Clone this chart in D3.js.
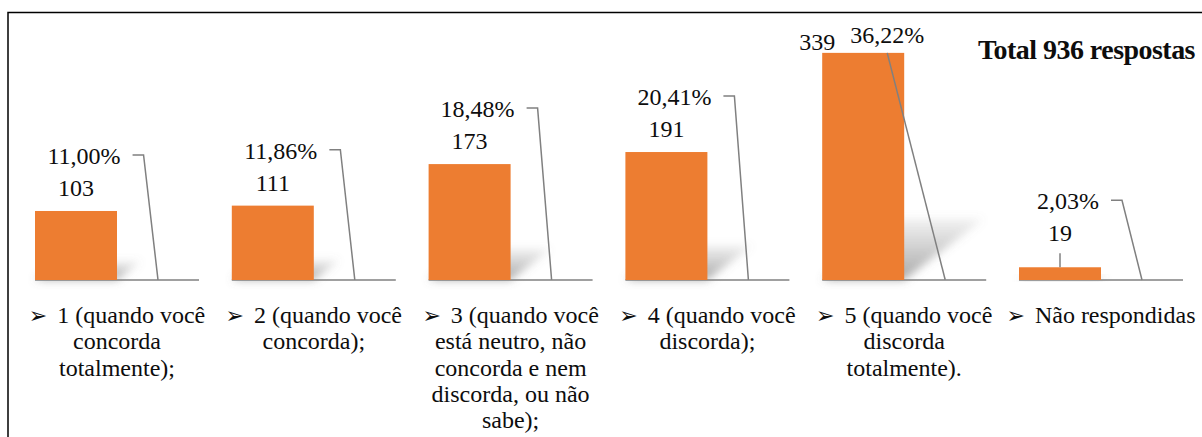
<!DOCTYPE html>
<html>
<head>
<meta charset="utf-8">
<script src="https://cdn.jsdelivr.net/npm/d3@7"></script>
<style>
  body { margin: 0; background: #fff; }
  svg text { font-family: "Liberation Serif", "Times New Roman", serif; fill: #0d0d0d; }
</style>
</head>
<body>
<script>
// data
var categories = ['1', '2', '3', '4', '5', 'NR'];
var categoryLabels = [
    ['1 (quando você', 'concorda', 'totalmente);'],
    ['2 (quando você', 'concorda);'],
    ['3 (quando você', 'está neutro, não', 'concorda e nem', 'discorda, ou não', 'sabe);'],
    ['4 (quando você', 'discorda);'],
    ['5 (quando você', 'discorda', 'totalmente).'],
    ['Não respondidas']
];
var counts = [103, 111, 173, 191, 339, 19];
var percents = [11.00, 11.86, 18.48, 20.41, 36.22, 2.03];
var totalLabel = 'Total 936 respostas';
var yMax = 400; // hidden value axis max

var scr = { w: 1202, h: 437 };
var baseY = 280, topY = 12;
var labelLift = [0, 0, 0, 0, 0, 11]; // extra lift for the tiny bar's label (has a leader)

var svg = d3.select('body')
    .append('svg')
    .attr('width', scr.w)
    .attr('height', scr.h);

var defs = svg.append('defs');
defs.append('filter')
    .attr('id', 'blur')
    .attr('x', '-50%').attr('y', '-50%')
    .attr('width', '200%').attr('height', '200%')
    .append('feGaussianBlur')
    .attr('stdDeviation', 4);
var grad = defs.append('linearGradient')
    .attr('id', 'shade')
    .attr('x1', 0).attr('y1', 1).attr('x2', 0).attr('y2', 0);
grad.append('stop').attr('offset', 0).attr('stop-color', '#6e6e6e').attr('stop-opacity', 0.6);
grad.append('stop').attr('offset', 1).attr('stop-color', '#7a7a7a').attr('stop-opacity', 0.1);

// frame (only left and top edges are in view)
svg.append('rect')
    .attr('x', 8).attr('y', 12.5)
    .attr('width', 1400).attr('height', 600)
    .attr('fill', 'none')
    .attr('stroke', '#000')
    .attr('stroke-width', 1.5);

var xScale = d3.scaleBand()
    .domain(categories)
    .range([35, 1183])
    .paddingInner(1 / 6)
    .paddingOuter(0);
var subScale = d3.scaleBand()
    .domain(['count', 'pct'])
    .range([0, xScale.bandwidth()]);
var yScale = d3.scaleLinear()
    .domain([0, yMax])
    .range([baseY, topY]);

var ptBR = d3.formatLocale({ decimal: ',', thousands: '.', grouping: [3], currency: ['R$', ''] });
var fmtPct = ptBR.format('.2f');

var rows = categories.map(function(c, i) {
    return { cat: c, count: counts[i], pct: percents[i], lines: categoryLabels[i], i: i };
});

// soft shadows behind the bars
svg.append('g').selectAll('polygon')
    .data(rows)
    .enter()
    .append('polygon')
    .attr('points', function(d) {
        var left = xScale(d.cat) + subScale('count');
        var right = left + subScale.bandwidth();
        var h = baseY - yScale(d.count);
        var dx = h * 0.35, dy = h * 0.27;
        return [[left, baseY], [right, baseY], [right + dx, baseY - dy], [left + dx, baseY - dy]].join(' ');
    })
    .attr('fill', 'url(#shade)')
    .attr('filter', 'url(#blur)');

// axis segment under each cluster
svg.append('g').selectAll('line')
    .data(rows)
    .enter()
    .append('line')
    .attr('x1', function(d) { return xScale(d.cat); })
    .attr('x2', function(d) { return xScale(d.cat) + xScale.bandwidth(); })
    .attr('y1', baseY).attr('y2', baseY)
    .attr('stroke', '#808080')
    .attr('stroke-width', 1.5);

svg.append('g').selectAll('rect')
    .data(rows)
    .enter()
    .append('rect')
    .attr('x', function(d) { return xScale(d.cat) + subScale('count'); })
    .attr('y', function(d) { return yScale(d.count); })
    .attr('width', subScale.bandwidth())
    .attr('height', function(d) { return baseY - yScale(d.count); })
    .attr('fill', '#ED7D31');

// data labels
var labels = svg.append('g');
rows.forEach(function(d) {
    var barLeft = xScale(d.cat) + subScale('count');
    var barMid = barLeft + subScale.bandwidth() / 2;
    var barTop = yScale(d.count);
    var pctX = xScale(d.cat) + subScale('pct') + subScale.bandwidth() / 2;
    var pctY = yScale(d.pct / 100);
    var countY = barTop - 15 - labelLift[d.i];

    if (countY - 32 - 20 < topY) {
        // no room above: labels sit beside the top of the bar
        labels.append('text')
            .attr('x', barLeft + 13).attr('y', barTop - 3)
            .attr('text-anchor', 'end')
            .attr('font-size', 24)
            .text(d.count);
        var t = labels.append('text')
            .attr('x', barLeft + 28).attr('y', barTop - 10)
            .attr('font-size', 24)
            .text(fmtPct(d.pct) + '%');
        var tw = t.node().getComputedTextLength();
        labels.append('path')
            .attr('d', d3.line()([[barLeft + 28 + tw / 2, barTop], [pctX, pctY]]))
            .attr('fill', 'none')
            .attr('stroke', '#808080')
            .attr('stroke-width', 1.5);
        return;
    }

    labels.append('text')
        .attr('x', barMid).attr('y', countY)
        .attr('text-anchor', 'middle')
        .attr('font-size', 24)
        .text(d.count);
    if (labelLift[d.i] > 0) {
        labels.append('line')
            .attr('x1', barMid).attr('x2', barMid)
            .attr('y1', barTop).attr('y2', countY + 12)
            .attr('stroke', '#808080')
            .attr('stroke-width', 1.5);
    }

    var py = countY - 32;
    var pt = labels.append('text')
        .attr('x', barMid + 8).attr('y', py)
        .attr('text-anchor', 'middle')
        .attr('font-size', 24)
        .text(fmtPct(d.pct) + '%');
    var right = barMid + 8 + pt.node().getComputedTextLength() / 2;
    labels.append('path')
        .attr('d', d3.line()([[right + 12, py - 9], [right + 23, py - 9], [pctX, pctY]]))
        .attr('fill', 'none')
        .attr('stroke', '#808080')
        .attr('stroke-width', 1.5);
});

// category labels with arrow bullets
var catText = svg.append('g').selectAll('g')
    .data(rows)
    .enter()
    .append('g');
catText.each(function(d) {
    var g = d3.select(this);
    var cx = xScale(d.cat) + xScale.bandwidth() / 2;
    d.lines.forEach(function(line, k) {
        var t = g.append('text')
            .attr('x', cx)
            .attr('y', 323 + k * 26.3)
            .attr('text-anchor', 'middle')
            .attr('font-size', 24);
        if (k == 0) {
            t.append('tspan')
                .style('font-family', '"DejaVu Sans", sans-serif')
                .attr('font-size', 22)
                .text('\u27A2');
            t.append('tspan')
                .attr('dx', 10)
                .text(line);
        } else {
            t.text(line);
        }
    });
});

svg.append('text')
    .attr('x', 978).attr('y', 59)
    .attr('font-size', 27)
    .attr('font-weight', 'bold')
    .attr('textLength', 217)
    .attr('lengthAdjust', 'spacingAndGlyphs')
    .style('letter-spacing', '-0.5px')
    .text(totalLabel);
</script>
</body>
</html>
